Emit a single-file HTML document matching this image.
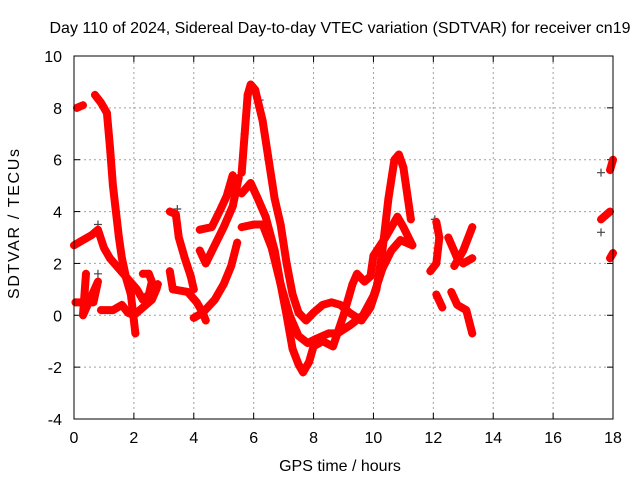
<!DOCTYPE html>
<html><head><meta charset="utf-8"><style>
html,body{margin:0;padding:0;background:#fff;}
svg{display:block;font-family:"Liberation Sans",sans-serif;}
</style></head><body>
<svg id="chart" width="640" height="480" viewBox="0 0 640 480">
<text x="340" y="33" font-size="16" text-anchor="middle">Day 110 of 2024, Sidereal Day-to-day VTEC variation (SDTVAR) for receiver cn19</text>
<text x="340" y="471" font-size="16" text-anchor="middle">GPS time / hours</text>
<text x="19" y="224" font-size="16" text-anchor="middle" textLength="150" lengthAdjust="spacing" transform="rotate(-90 19 224)">SDTVAR / TECUs</text>
<g id="grid"></g><g id="ticks"></g><g id="series"></g>
<rect x="74" y="56" width="539" height="363" fill="none" stroke="#000" stroke-width="1"/>
</svg>
<script>
const xTicks=[0,2,4,6,8,10,12,14,16,18];
const yTicks=[-4,-2,0,2,4,6,8,10];
const traceA=[[0.7,8.5],[0.9,8.2],[1.1,7.8],[1.2,6.5],[1.3,5],[1.4,4],[1.5,3],[1.6,2.2],[1.75,1.4],[1.9,0.8],[2.0,-0.2],[2.05,-0.7]];
const traceB=[[0.1,8.0],[0.3,8.1]];
const traceC=[[0,2.7],[0.3,2.9],[0.6,3.1],[0.8,3.3],[1.0,2.6],[1.2,2.2],[1.5,1.8],[1.8,1.4],[2.1,1.0],[2.3,0.6],[2.5,0.8],[2.6,1.3],[2.5,1.6],[2.3,1.6]];
const traceD=[[0.9,0.2],[1.3,0.2],[1.6,0.4],[1.8,0.1],[2.0,0],[2.3,0.3],[2.6,0.6],[2.75,1.0],[2.8,1.2]];
const traceE=[[0.4,1.6],[0.3,0.0],[0.8,1.3],[0.65,0.5],[0.05,0.5]];
const traceF=[[3.2,4.0],[3.4,3.9],[3.5,3.0],[3.7,2.2],[3.9,1.5],[4.0,1.0]];
const traceG=[[3.2,1.7],[3.3,1.0],[3.8,0.9],[4.1,0.5],[4.3,0.1],[4.4,-0.2]];
const traceH=[[4.0,-0.1],[4.3,0.1],[4.7,0.6],[5.0,1.2],[5.25,1.9],[5.45,2.8]];
const traceI=[[4.2,2.5],[4.4,2.0],[4.7,2.7],[5.0,3.4],[5.3,4.2],[5.5,5.3]];
const traceJ=[[4.2,3.3],[4.6,3.4],[4.9,4.1],[5.1,4.6],[5.3,5.4]];
const traceK=[[5.6,5.5],[5.7,7.0],[5.8,8.5],[5.9,8.9],[6.05,8.7],[6.3,7.5],[6.5,6.0],[6.7,4.5],[6.9,3.5],[7.1,2.0],[7.3,0.8],[7.5,0.1],[7.75,-0.2],[8.0,0.1],[8.3,0.4],[8.6,0.5],[8.9,0.4],[9.2,0.1],[9.6,-0.2],[9.9,0.3],[10.1,1.0],[10.3,2.5],[10.5,4.5],[10.7,6.0],[10.85,6.2],[11.0,5.7],[11.15,4.5],[11.25,3.7]];
const traceL=[[5.6,4.7],[5.9,5.1],[6.1,4.6],[6.4,3.8],[6.7,2.5],[6.9,1.2],[7.1,0],[7.3,-1.3],[7.5,-1.9],[7.65,-2.2],[7.85,-1.8],[8.0,-1.2],[8.3,-1.0],[8.65,-1.2],[9.0,0],[9.3,1.2],[9.45,1.6],[9.7,1.3],[9.9,1.5],[10.0,2.3],[10.4,3.0],[10.8,3.8],[11.0,3.4],[11.3,2.7]];
const traceM=[[5.6,3.4],[6.0,3.5],[6.3,3.5],[6.6,2.6],[6.9,1.2],[7.2,0],[7.5,-0.8],[7.8,-1.07],[8.1,-0.9],[8.5,-0.7],[8.8,-0.7],[9.2,-0.4],[9.65,0],[10.0,0.75],[10.3,1.8],[10.6,2.5],[10.9,2.9],[11.3,2.7]];
const traceN=[[12.1,3.6],[12.2,3.0],[12.1,2.0],[11.9,1.7]];
const traceO=[[12.1,0.8],[12.3,0.3]];
const traceP=[[12.5,3.0],[12.8,2.2],[13.0,2.0],[13.3,2.2]];
const traceQ=[[12.7,1.9],[13.0,2.5],[13.3,3.4]];
const traceR=[[12.6,0.9],[12.8,0.4],[13.1,0.2],[13.3,-0.7]];
const traceS=[[17.9,2.2],[18.0,2.4]];
const traceT=[[17.9,5.6],[18.0,6.0]];
const traceU=[[17.6,3.7],[17.9,4.0]];
const grayPts=[[17.6,5.5],[17.6,3.2],[0.8,3.5],[0.8,1.6],[12.05,3.7],[6.2,8.3],[3.45,4.1]];
const traces=[traceA,traceB,traceC,traceD,traceE,traceF,traceG,traceH,traceI,traceJ,traceK,traceL,traceM,traceN,traceO,traceP,traceQ,traceR,traceS,traceT,traceU];

const X0=74,X1=613,Y0=419,Y1=56,XMIN=0,XMAX=18,YMIN=-4,YMAX=10;
const sx=t=>X0+(t-XMIN)/(XMAX-XMIN)*(X1-X0);
const sy=v=>Y0-(v-YMIN)/(YMAX-YMIN)*(Y0-Y1);
const NS='http://www.w3.org/2000/svg';
const mk=(tag,attrs,parent)=>{const e=document.createElementNS(NS,tag);for(const k in attrs)e.setAttribute(k,attrs[k]);parent.appendChild(e);return e;};
const grid=document.getElementById('grid'),ticks=document.getElementById('ticks'),series=document.getElementById('series');
xTicks.forEach(t=>{
  const x=sx(t);
  if(t>XMIN&&t<XMAX){const g=mk('line',{x1:x,y1:Y0,x2:x,y2:Y1,stroke:'#a0a0a0','stroke-dasharray':'2,3'},grid);
  
  }
  mk('line',{x1:x,y1:Y0,x2:x,y2:Y0-6,stroke:'#000'},ticks);
  mk('line',{x1:x,y1:Y1,x2:x,y2:Y1+6,stroke:'#000'},ticks);
  const l=mk('text',{x:x,y:Y0+24,'font-size':16,'text-anchor':'middle'},ticks);l.textContent=t;
  
  
});
yTicks.forEach(v=>{
  const y=sy(v);
  if(v>YMIN&&v<YMAX){const g=mk('line',{x1:X0,y1:y,x2:X1,y2:y,stroke:'#a0a0a0','stroke-dasharray':'2,3'},grid);
  
  }
  mk('line',{x1:X0,y1:y,x2:X0+6,y2:y,stroke:'#000'},ticks);
  mk('line',{x1:X1,y1:y,x2:X1-6,y2:y,stroke:'#000'},ticks);
  const l=mk('text',{x:X0-12,y:y+6,'font-size':16,'text-anchor':'end'},ticks);l.textContent=v;
  
  
});
function plus(x,y,c,p){const d=`M${x-4},${y}h8M${x},${y-4}v8`;return mk('path',{d:d,stroke:c,'stroke-width':1.2,fill:'none'},p);}
grayPts.forEach(p=>{const m=plus(sx(p[0]),sy(p[1]),'#444',series);
  
  });
traces.forEach((tr,i)=>{
  const g=mk('g',{},series);
  
  
  if(tr.length>1) mk('polyline',{points:tr.map(p=>sx(p[0])+','+sy(p[1])).join(' '),fill:'none',stroke:'#f00','stroke-width':8,'stroke-linejoin':'round','stroke-linecap':'round'},g);
  tr.forEach(p=>plus(sx(p[0]),sy(p[1]),'#f00',g));
});
</script>
</body></html>
